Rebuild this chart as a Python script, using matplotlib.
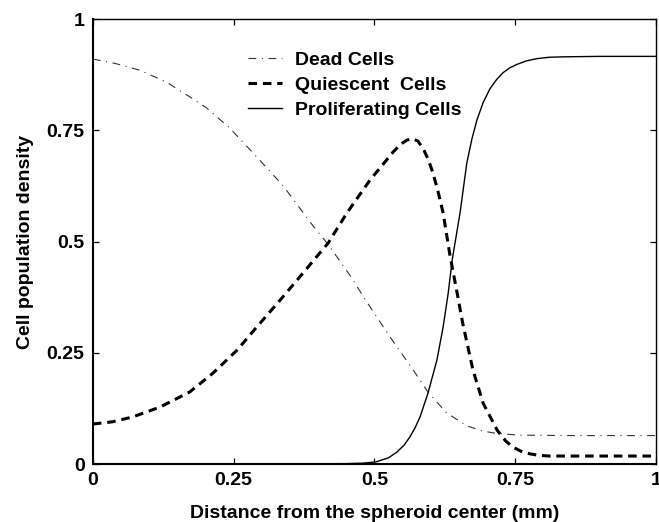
import numpy as np
import matplotlib
matplotlib.use("Agg")
import matplotlib.pyplot as plt

plt.rcParams["font.family"] = ["Liberation Sans", "DejaVu Sans"]
plt.rcParams["font.weight"] = "bold"

# Data
dead_x = [0, 0.04, 0.083, 0.131, 0.172, 0.202, 0.243, 0.291, 0.338, 0.391,
          0.418, 0.456, 0.486, 0.528, 0.569, 0.595, 0.628, 0.664, 0.69,
          0.711, 0.735, 0.758, 0.85, 1.0]
dead_y = [0.91, 0.90, 0.885, 0.858, 0.825, 0.80, 0.755, 0.69, 0.625, 0.535,
          0.493, 0.425, 0.365, 0.285, 0.211, 0.162, 0.115, 0.086, 0.075,
          0.07, 0.067, 0.065, 0.064, 0.064]

quiescent_x = [0, 0.035, 0.071, 0.119, 0.172, 0.213, 0.256, 0.291, 0.337,
               0.373, 0.418, 0.451, 0.492, 0.515, 0.533, 0.548, 0.558, 0.567,
               0.577, 0.586, 0.595, 0.604, 0.613, 0.622, 0.634, 0.646, 0.657,
               0.675, 0.693, 0.718, 0.733, 0.746, 0.76, 0.776, 0.79, 0.81,
               1.0]
quiescent_y = [0.09, 0.095, 0.106, 0.128, 0.162, 0.204, 0.256, 0.308, 0.375,
               0.429, 0.497, 0.564, 0.638, 0.673, 0.701, 0.72, 0.728, 0.731,
               0.726, 0.71, 0.686, 0.654, 0.612, 0.564, 0.47, 0.39, 0.315,
               0.211, 0.137, 0.076, 0.052, 0.038, 0.029, 0.023, 0.02, 0.018,
               0.018]

prolif_x = [0, 0.3, 0.45, 0.48, 0.503, 0.525, 0.54, 0.553, 0.563, 0.572,
            0.581, 0.595, 0.611, 0.622, 0.631, 0.638, 0.652, 0.664, 0.673,
            0.682, 0.693, 0.705, 0.717, 0.728, 0.74, 0.753, 0.77, 0.789,
            0.81, 0.835, 0.9, 1.0]
prolif_y = [0, 0, 0.001, 0.002, 0.005, 0.014, 0.027, 0.043, 0.061, 0.081,
            0.106, 0.159, 0.234, 0.308, 0.384, 0.458, 0.564, 0.676, 0.73,
            0.773, 0.812, 0.843, 0.864, 0.879, 0.89, 0.898, 0.906, 0.911,
            0.914, 0.915, 0.916, 0.916]

ticks = [0, 0.25, 0.5, 0.75, 1]
tick_labels = ["0", "0.25", "0.5", "0.75", "1"]

fig = plt.figure(figsize=(6.59, 5.22), dpi=100)
ax = fig.add_axes([0.141, 0.111, 0.8544, 0.8526])

ax.plot(dead_x, dead_y, color="#333333", lw=0.8,
        linestyle=(0, (7, 5, 1, 5)), label="Dead Cells")
ax.plot(quiescent_x, quiescent_y, color="black", lw=2.2,
        linestyle=(0, (2.8, 1.9)), label="Quiescent  Cells")
ax.plot(prolif_x, prolif_y, color="black", lw=1.0,
        label="Proliferating Cells")

ax.set_xlim(0, 1)
ax.set_ylim(0, 1)
ax.set_xticks(ticks)
ax.set_xticklabels(tick_labels)
ax.set_yticks(ticks)
ax.set_yticklabels(tick_labels)
ax.tick_params(direction="in", length=4.5, width=0.9, top=True, right=True,
               labelsize=14, pad=6)
for side in ["left", "bottom"]:
    ax.spines[side].set_linewidth(1.5)
for side in ["right", "top"]:
    ax.spines[side].set_linewidth(1.0)

ax.set_xlabel("Distance from the spheroid center (mm)", fontsize=14,
              fontweight="bold", labelpad=11)
ax.set_ylabel("Cell population density", fontsize=14, fontweight="bold",
              labelpad=9)

ax.legend(loc="upper left", bbox_to_anchor=(0.262, 0.945), frameon=False,
          fontsize=14, handlelength=1.75, handletextpad=0.65,
          labelspacing=0.38, borderaxespad=0)

fig.savefig("out.png", dpi=100)
